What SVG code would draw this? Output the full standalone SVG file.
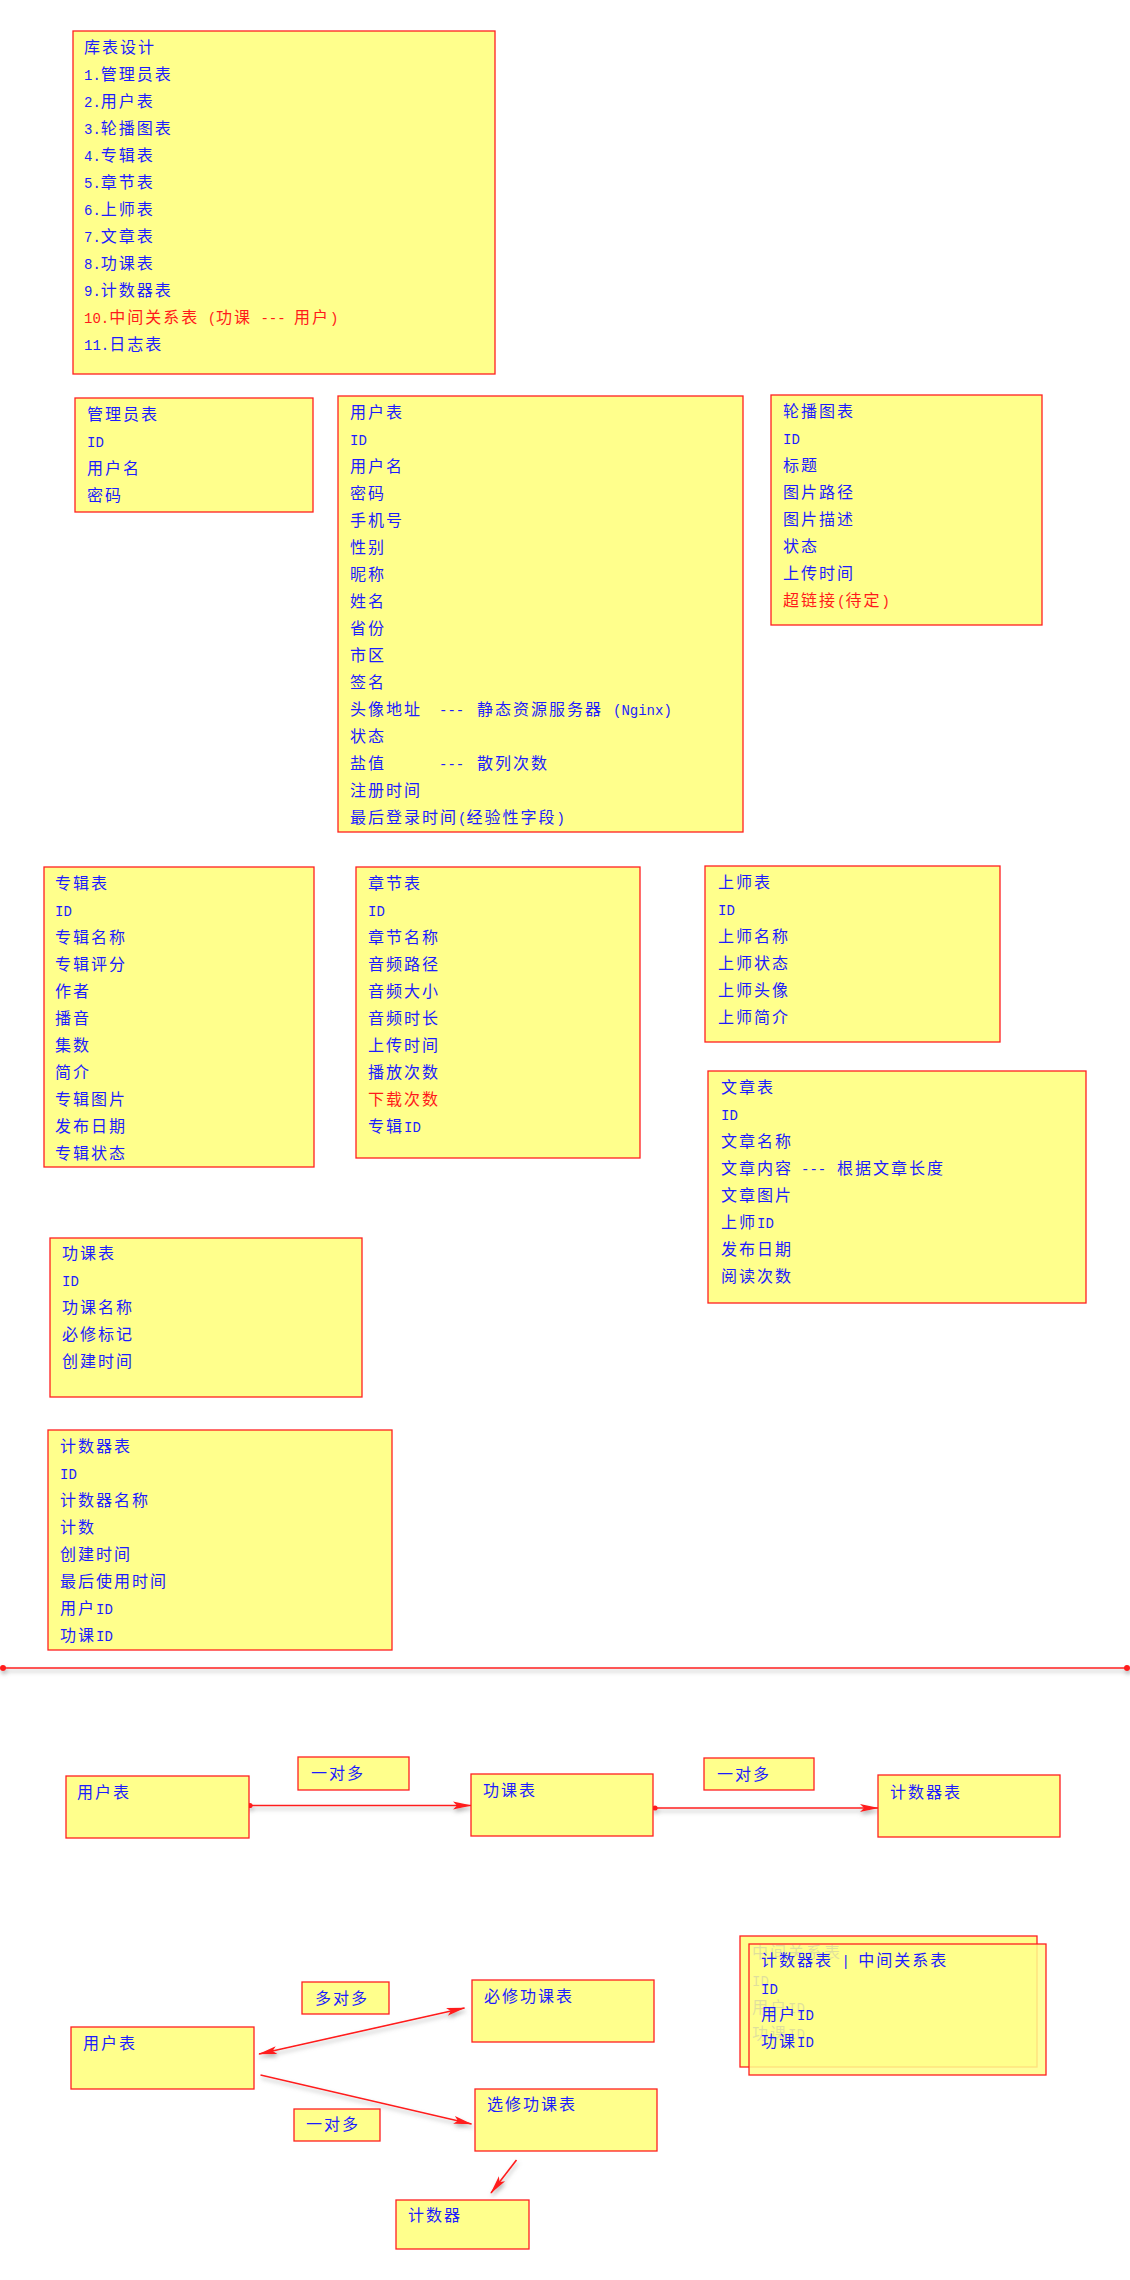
<svg xmlns="http://www.w3.org/2000/svg" width="1130" height="2280" viewBox="0 0 1130 2280">
<style>
.box{fill:#ffff8c;stroke:#ff2020;stroke-width:1.3}
.front{fill:#ffff8c;fill-opacity:0.86;stroke:#ff2020;stroke-width:1.3}
text{font-family:"Noto Sans CJK SC","Liberation Sans",sans-serif;font-size:16px;letter-spacing:2px;fill:#1c1cff}
.r{fill:#ff1a1a}
.a{font-family:"Liberation Mono","Noto Sans CJK SC",monospace;font-size:14px;letter-spacing:0}
.conn{stroke:#ff1a1a;stroke-width:1.6;fill:none}
</style>
<defs>
<filter id="sh" x="-5%" y="-50%" width="110%" height="300%">
<feDropShadow dx="1" dy="3" stdDeviation="2" flood-color="#808080" flood-opacity="0.6"/>
</filter>
<marker id="ah" markerWidth="19" markerHeight="10" refX="18" refY="5" orient="auto-start-reverse" markerUnits="userSpaceOnUse">
<path d="M0,1 L19,5 L0,9 L4,5 z" fill="#ff1a1a"/>
</marker>
<marker id="dot" markerWidth="7" markerHeight="7" refX="3.5" refY="3.5" markerUnits="userSpaceOnUse">
<circle cx="3.5" cy="3.5" r="2.6" fill="#ff1a1a"/>
</marker>
</defs>
<rect width="1130" height="2280" fill="#ffffff"/>

<g id="n-design">
<rect class="box" x="73" y="31" width="422" height="343"/>
<text x="84" y="52.5">库表设计</text>
<text x="84" y="79.5"><tspan class="a">1.</tspan>管理员表</text>
<text x="84" y="106.5"><tspan class="a">2.</tspan>用户表</text>
<text x="84" y="133.5"><tspan class="a">3.</tspan>轮播图表</text>
<text x="84" y="160.5"><tspan class="a">4.</tspan>专辑表</text>
<text x="84" y="187.5"><tspan class="a">5.</tspan>章节表</text>
<text x="84" y="214.5"><tspan class="a">6.</tspan>上师表</text>
<text x="84" y="241.5"><tspan class="a">7.</tspan>文章表</text>
<text x="84" y="268.5"><tspan class="a">8.</tspan>功课表</text>
<text x="84" y="295.5"><tspan class="a">9.</tspan>计数器表</text>
<text x="84" y="322.5" class="r"><tspan class="a r">10.</tspan>中间关系表<tspan class="a r"> (</tspan>功课<tspan class="a r"> --- </tspan>用户<tspan class="a r">)</tspan></text>
<text x="84" y="349.5"><tspan class="a">11.</tspan>日志表</text>
</g>

<g id="n-admin">
<rect class="box" x="75" y="398" width="238" height="114"/>
<text x="87" y="420">管理员表</text>
<text x="87" y="447"><tspan class="a">ID</tspan></text>
<text x="87" y="474">用户名</text>
<text x="87" y="501">密码</text>
</g>

<g id="n-user">
<rect class="box" x="338" y="396" width="405" height="436"/>
<text x="350" y="418">用户表</text>
<text x="350" y="445"><tspan class="a">ID</tspan></text>
<text x="350" y="472">用户名</text>
<text x="350" y="499">密码</text>
<text x="350" y="526">手机号</text>
<text x="350" y="553">性别</text>
<text x="350" y="580">昵称</text>
<text x="350" y="607">姓名</text>
<text x="350" y="634">省份</text>
<text x="350" y="661">市区</text>
<text x="350" y="688">签名</text>
<text x="350" y="715">头像地址<tspan class="a" x="439">---</tspan><tspan x="477">静态资源服务器</tspan><tspan class="a" x="613">(Nginx)</tspan></text>
<text x="350" y="742">状态</text>
<text x="350" y="769">盐值<tspan class="a" x="439">---</tspan><tspan x="477">散列次数</tspan></text>
<text x="350" y="796">注册时间</text>
<text x="350" y="823">最后登录时间<tspan class="a">(</tspan>经验性字段<tspan class="a">)</tspan></text>
</g>

<g id="n-banner">
<rect class="box" x="771" y="395" width="271" height="230"/>
<text x="783" y="417">轮播图表</text>
<text x="783" y="444"><tspan class="a">ID</tspan></text>
<text x="783" y="471">标题</text>
<text x="783" y="498">图片路径</text>
<text x="783" y="525">图片描述</text>
<text x="783" y="552">状态</text>
<text x="783" y="579">上传时间</text>
<text x="783" y="606" class="r">超链接<tspan class="a r">(</tspan>待定<tspan class="a r">)</tspan></text>
</g>

<g id="n-album">
<rect class="box" x="44" y="867" width="270" height="300"/>
<text x="55" y="889">专辑表</text>
<text x="55" y="916"><tspan class="a">ID</tspan></text>
<text x="55" y="943">专辑名称</text>
<text x="55" y="970">专辑评分</text>
<text x="55" y="997">作者</text>
<text x="55" y="1024">播音</text>
<text x="55" y="1051">集数</text>
<text x="55" y="1078">简介</text>
<text x="55" y="1105">专辑图片</text>
<text x="55" y="1132">发布日期</text>
<text x="55" y="1159">专辑状态</text>
</g>

<g id="n-chapter">
<rect class="box" x="356" y="867" width="284" height="291"/>
<text x="368" y="889">章节表</text>
<text x="368" y="916"><tspan class="a">ID</tspan></text>
<text x="368" y="943">章节名称</text>
<text x="368" y="970">音频路径</text>
<text x="368" y="997">音频大小</text>
<text x="368" y="1024">音频时长</text>
<text x="368" y="1051">上传时间</text>
<text x="368" y="1078">播放次数</text>
<text x="368" y="1105" class="r">下载次数</text>
<text x="368" y="1132">专辑<tspan class="a">ID</tspan></text>
</g>

<g id="n-master">
<rect class="box" x="705" y="866" width="295" height="176"/>
<text x="718" y="888">上师表</text>
<text x="718" y="915"><tspan class="a">ID</tspan></text>
<text x="718" y="942">上师名称</text>
<text x="718" y="969">上师状态</text>
<text x="718" y="996">上师头像</text>
<text x="718" y="1023">上师简介</text>
</g>

<g id="n-article">
<rect class="box" x="708" y="1071" width="378" height="232"/>
<text x="721" y="1093">文章表</text>
<text x="721" y="1120"><tspan class="a">ID</tspan></text>
<text x="721" y="1147">文章名称</text>
<text x="721" y="1174">文章内容<tspan class="a" x="801">---</tspan><tspan x="837">根据文章长度</tspan></text>
<text x="721" y="1201">文章图片</text>
<text x="721" y="1228">上师<tspan class="a">ID</tspan></text>
<text x="721" y="1255">发布日期</text>
<text x="721" y="1282">阅读次数</text>
</g>

<g id="n-lesson">
<rect class="box" x="50" y="1238" width="312" height="159"/>
<text x="62" y="1259">功课表</text>
<text x="62" y="1286"><tspan class="a">ID</tspan></text>
<text x="62" y="1313">功课名称</text>
<text x="62" y="1340">必修标记</text>
<text x="62" y="1367">创建时间</text>
</g>

<g id="n-counter">
<rect class="box" x="48" y="1430" width="344" height="220"/>
<text x="60" y="1452">计数器表</text>
<text x="60" y="1479"><tspan class="a">ID</tspan></text>
<text x="60" y="1506">计数器名称</text>
<text x="60" y="1533">计数</text>
<text x="60" y="1560">创建时间</text>
<text x="60" y="1587">最后使用时间</text>
<text x="60" y="1614">用户<tspan class="a">ID</tspan></text>
<text x="60" y="1641">功课<tspan class="a">ID</tspan></text>
</g>

<g id="connectors" filter="url(#sh)">
<line class="conn" x1="3" y1="1668" x2="1127" y2="1668" stroke-width="2"/>
<circle cx="3" cy="1668" r="3" fill="#ff1a1a"/>
<circle cx="1127" cy="1668" r="3" fill="#ff1a1a"/>
<line class="conn" x1="250" y1="1805.5" x2="471" y2="1805.5" marker-start="url(#dot)" marker-end="url(#ah)"/>
<line class="conn" x1="655" y1="1808" x2="878" y2="1808" marker-start="url(#dot)" marker-end="url(#ah)"/>
<line class="conn" x1="464.5" y1="2008" x2="259" y2="2054" marker-start="url(#ah)" marker-end="url(#ah)"/>
<line class="conn" x1="260.5" y1="2075" x2="471.5" y2="2124" marker-end="url(#ah)"/>
<line class="conn" x1="516.5" y1="2160" x2="491" y2="2193" marker-end="url(#ah)"/>
</g>

<g id="n-user2">
<rect class="box" x="66" y="1776" width="183" height="62"/>
<text x="77" y="1798">用户表</text>
</g>
<g id="n-label1">
<rect class="box" x="298" y="1757" width="111" height="33"/>
<text x="311" y="1779">一对多</text>
</g>
<g id="n-lesson2">
<rect class="box" x="471" y="1774" width="182" height="62"/>
<text x="483" y="1796">功课表</text>
</g>
<g id="n-label2">
<rect class="box" x="704" y="1758" width="110" height="32"/>
<text x="717" y="1780">一对多</text>
</g>
<g id="n-counter2">
<rect class="box" x="878" y="1775" width="182" height="62"/>
<text x="890" y="1798">计数器表</text>
</g>

<g id="n-user3">
<rect class="box" x="71" y="2027" width="183" height="62"/>
<text x="83" y="2049">用户表</text>
</g>
<g id="n-label3">
<rect class="box" x="302" y="1982" width="87" height="32"/>
<text x="315" y="2004">多对多</text>
</g>
<g id="n-required">
<rect class="box" x="472" y="1980" width="182" height="62"/>
<text x="484" y="2002">必修功课表</text>
</g>
<g id="n-elective">
<rect class="box" x="475" y="2089" width="182" height="62"/>
<text x="487" y="2110">选修功课表</text>
</g>
<g id="n-label4">
<rect class="box" x="294" y="2109" width="86" height="32"/>
<text x="306" y="2130">一对多</text>
</g>
<g id="n-counter3">
<rect class="box" x="396" y="2200" width="133" height="49"/>
<text x="408" y="2221">计数器</text>
</g>

<g id="n-relation">
<rect class="box" x="740" y="1936" width="297" height="131"/>
<text x="752" y="1958">中间关系表</text>
<text x="752" y="1986"><tspan class="a">ID</tspan></text>
<text x="752" y="2013">用户<tspan class="a">ID</tspan></text>
<text x="752" y="2039">功课<tspan class="a">ID</tspan></text>
<rect class="front" x="749" y="1944" width="297" height="131"/>
<text x="761" y="1966">计数器表<tspan class="a"> | </tspan>中间关系表</text>
<text x="761" y="1994"><tspan class="a">ID</tspan></text>
<text x="761" y="2020">用户<tspan class="a">ID</tspan></text>
<text x="761" y="2047">功课<tspan class="a">ID</tspan></text>
</g>
</svg>
